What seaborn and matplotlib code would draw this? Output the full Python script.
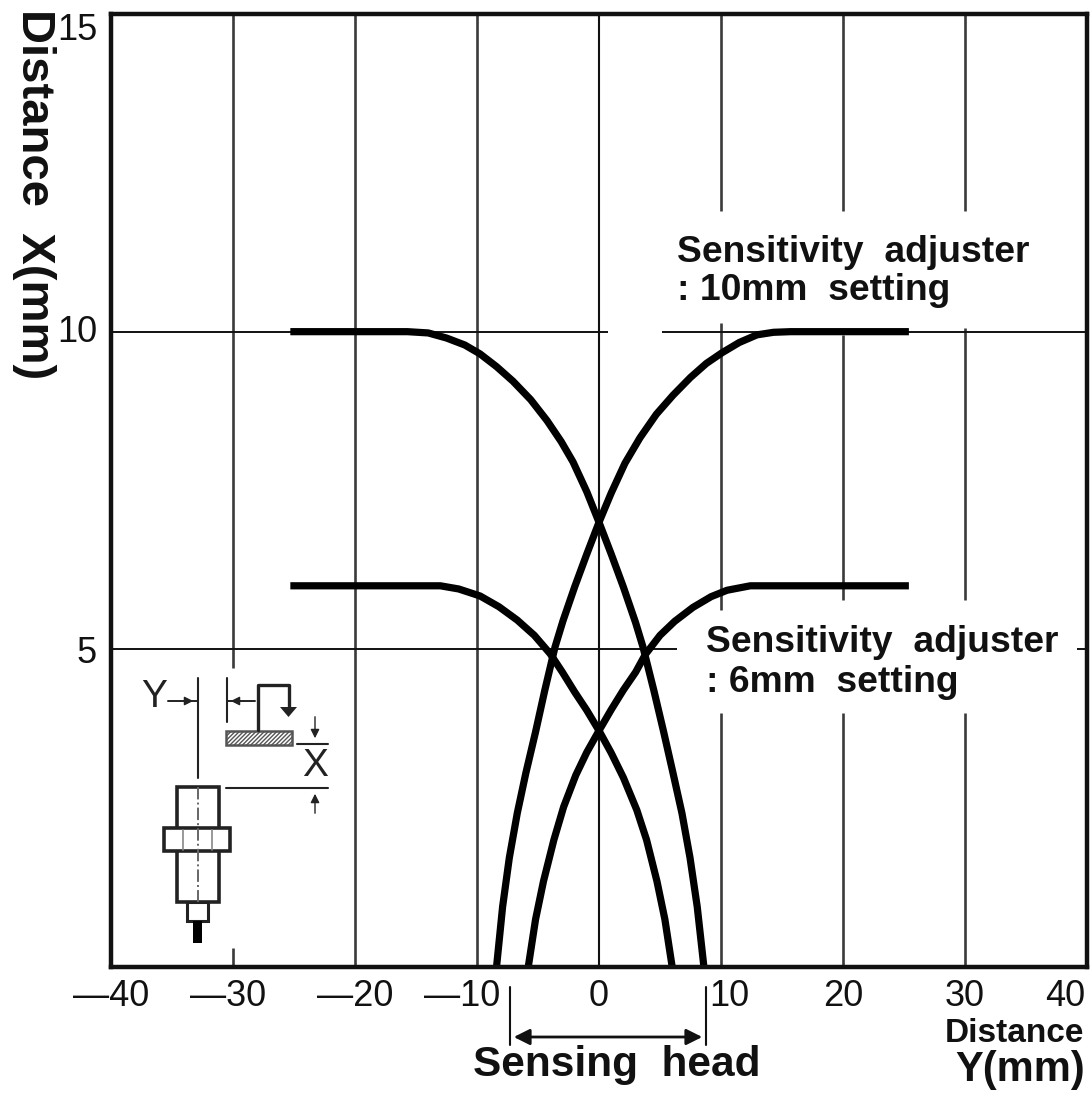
import matplotlib
matplotlib.use("Agg")
import matplotlib.pyplot as plt
import seaborn as sns
from matplotlib.patches import Rectangle

sns.set_theme(style="white")
plt.rcParams['font.family'] = ['Liberation Sans', 'DejaVu Sans']

# curves: distance Y (mm), distance X (mm)
y_10_fall = [-25.3, -15.7, -14, -12.5, -11, -9.75, -8.4, -7.05, -5.6, -4.26, -3.1, -2.13, -1, 0, 1, 2, 3, 3.6, 4.5, 5.3, 6.07, 6.8, 7.46, 8.05, 8.6]
x_10_fall = [10, 10, 9.98, 9.9, 9.79, 9.65, 9.45, 9.22, 8.93, 8.6, 8.27, 7.95, 7.48, 7.0, 6.5, 5.98, 5.42, 5.04, 4.35, 3.7, 3.05, 2.42, 1.72, 0.95, 0]
y_10_rise = [-8.4, -7.9, -7.35, -6.7, -6.0, -5.2, -4.45, -3.6, -2.95, -2, -1, 0, 1, 2.13, 3.36, 4.7, 6.07, 7.5, 8.8, 10.1, 11.5, 12.95, 14.3, 15.7, 25.4]
x_10_rise = [0, 0.95, 1.72, 2.42, 3.05, 3.7, 4.35, 5.04, 5.45, 5.98, 6.5, 7.0, 7.46, 7.93, 8.33, 8.7, 9.0, 9.28, 9.5, 9.67, 9.83, 9.95, 9.99, 10, 10]
y_6_fall = [-25.3, -13, -11.5, -9.75, -8.2, -6.7, -5.3, -4, -3, -2, -1, 0, 1, 2, 3.1, 3.9, 4.75, 5.4, 6.0]
x_6_fall = [6, 6, 5.95, 5.84, 5.67, 5.46, 5.22, 4.93, 4.64, 4.33, 4.04, 3.72, 3.37, 2.98, 2.47, 2.0, 1.35, 0.75, 0]
y_6_rise = [-5.8, -5.2, -4.55, -3.7, -2.9, -1.9, -1, 0, 1, 2, 3, 3.8, 5, 6.2, 7.7, 9.2, 10.5, 12.4, 25.4]
x_6_rise = [0, 0.75, 1.35, 2.0, 2.52, 3.02, 3.38, 3.72, 4.05, 4.36, 4.64, 4.92, 5.22, 5.44, 5.66, 5.83, 5.93, 6, 6]

# tick labels sit a little off their grid lines in the original
xtick_pos = [-40, -30.4, -20, -11.2, 0, 10.7, 20, 30, 38.2]
xtick_labels = ['\u201440', '\u201430', '\u201420', '\u201410', '0', '10', '20', '30', '40']
ytick_pos = [14.8, 10.05, 5]
ytick_labels = ['15', '10', '5']

# grid pieces, broken where the labels and the sensor drawing sit
vgrid_x = [-30, -30, -20, -10, 10, 10, 10, 20, 20, 20, 30, 30, 30]
vgrid_lo = [0, 4.7, 0, 0, 0, 5.62, 11.9, 0, 5.78, 11.9, 0, 5.78, 11.9]
vgrid_hi = [0.3, 15, 15, 15, 4.0, 10.14, 15, 4.0, 9.95, 15, 4.0, 10.06, 15]
hgrid_y = [10, 10, 5, 5]
hgrid_lo = [-40, 5.2, -40, 39.2]
hgrid_hi = [0.75, 40, 6.4, 40]

fig = plt.figure(figsize=(10.9, 10.95), dpi=100)
ax = fig.add_axes([111 / 1090, 1 - 967 / 1095, (1087 - 111) / 1090, (967 - 14) / 1095])

ax.vlines(vgrid_x, vgrid_lo, vgrid_hi, color='#3a3a3a', lw=1.9)
ax.hlines(hgrid_y, hgrid_lo, hgrid_hi, color='#111111', lw=1.4)
ax.vlines([0], 0, 15, color='#111111', lw=1.5)

for ys, xs in [(y_10_fall, x_10_fall), (y_10_rise, x_10_rise), (y_6_fall, x_6_fall), (y_6_rise, x_6_rise)]:
    sns.lineplot(x=ys, y=xs, ax=ax, color='black', lw=5.2, sort=False, errorbar=None,
                 solid_capstyle='butt', solid_joinstyle='round', clip_on=True)

ax.set_xlim(-40, 40)
ax.set_ylim(0, 15)
ax.set_xticks(xtick_pos, xtick_labels)
ax.set_yticks(ytick_pos, ytick_labels)
ax.tick_params(axis='both', length=0, labelsize=26, colors='#111111')
ax.tick_params(axis='x', pad=9)
ax.tick_params(axis='y', pad=10)
for s in ax.spines.values():
    s.set_color('#111111')
    s.set_linewidth(3.2)

# overlay in image pixels for the drawing and the notes around the plot
ov = fig.add_axes([0, 0, 1, 1], facecolor='none')
ov.set_xlim(0, 1090)
ov.set_ylim(1095, 0)
ov.axis('off')

note = dict(fontweight='bold', color='#111111', va='center', ha='left', fontsize=26.8)
ov.text(677, 252, 'Sensitivity  adjuster', **note)
ov.text(677, 290, ': 10mm  setting', **note)
ov.text(706, 642, 'Sensitivity  adjuster', **note)
ov.text(706, 683, ': 6mm  setting', **note)
ov.text(34, 194, 'Distance  X(mm)', rotation=270, fontsize=34, fontweight='bold', color='#111111',
        ha='center', va='center')
ov.text(617, 1065, 'Sensing  head', fontsize=30.5, fontweight='bold', color='#111111', ha='center', va='center')
ov.text(1014, 1034, 'Distance', fontsize=24, fontweight='bold', color='#111111', ha='center', va='center')
ov.text(1020, 1070, 'Y(mm)', fontsize=30, fontweight='bold', color='#111111', ha='center', va='center')

# sensing head bracket
ov.plot([510, 510], [987, 1045], color='#111111', lw=1.5)
ov.plot([706, 706], [987, 1045], color='#111111', lw=1.5)
ov.annotate('', xy=(511, 1037), xytext=(705, 1037),
            arrowprops=dict(arrowstyle='<|-|>', color='#111111', lw=2, mutation_scale=24))

# sensor drawing
ink = '#222222'
ov.plot([198, 198], [678, 778], color=ink, lw=1.5)
ov.plot([227, 227], [678, 722], color=ink, lw=1.5)
ov.plot([168, 197], [701, 701], color=ink, lw=1.4)
ov.plot([227, 255], [701, 701], color=ink, lw=1.4)
ov.annotate('', xy=(196, 701), xytext=(180, 701), arrowprops=dict(arrowstyle='-|>', color=ink, lw=1, mutation_scale=13))
ov.annotate('', xy=(228, 701), xytext=(244, 701), arrowprops=dict(arrowstyle='-|>', color=ink, lw=1, mutation_scale=13))
ov.text(154, 697, 'Y', fontsize=28, color=ink, ha='center', va='center')
ov.plot([258, 258, 289, 289], [730, 685, 685, 708], color=ink, lw=2.4)
ov.fill([280, 297, 288.5], [707, 707, 717], color=ink, lw=0)
ov.add_patch(Rectangle((226, 731), 66, 14, facecolor='white', edgecolor='#555555', lw=1.8, hatch='////////'))
ov.plot([297, 328], [744, 744], color=ink, lw=1.5)
ov.plot([226, 328], [788, 788], color=ink, lw=1.5)
ov.text(315, 766, 'X', fontsize=28, color=ink, ha='center', va='center')
ov.annotate('', xy=(315, 741), xytext=(315, 714), arrowprops=dict(arrowstyle='-|>', color=ink, lw=1, mutation_scale=13))
ov.annotate('', xy=(315, 791), xytext=(315, 816), arrowprops=dict(arrowstyle='-|>', color=ink, lw=1, mutation_scale=13))
ov.add_patch(Rectangle((177, 787), 42, 115, facecolor='white', edgecolor=ink, lw=2.6))
ov.add_patch(Rectangle((164, 828), 66, 23, facecolor='white', edgecolor=ink, lw=2.6))
ov.plot([183, 183], [830, 850], color='#888888', lw=1.2)
ov.plot([212, 212], [830, 850], color='#888888', lw=1.2)
ov.plot([198, 198], [787, 902], color='#666666', lw=1.4, ls='-.')
ov.add_patch(Rectangle((187, 902), 21, 19, facecolor='white', edgecolor=ink, lw=2.2))
ov.add_patch(Rectangle((193, 921), 9, 22, facecolor='black', edgecolor='none'))

fig.savefig('out.png', dpi=100)
